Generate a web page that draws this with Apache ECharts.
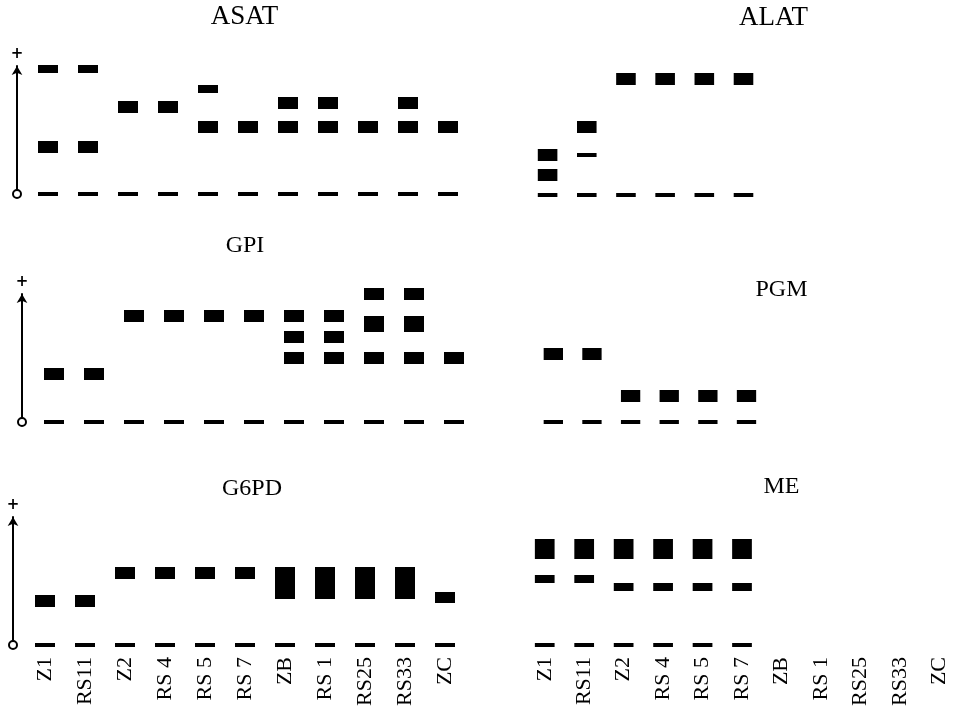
<!DOCTYPE html>
<html><head><meta charset="utf-8">
<script src="https://cdn.jsdelivr.net/npm/echarts@6/dist/echarts.min.js"></script>
<style>html,body{margin:0;padding:0;background:#fff}#c{width:959px;height:711px}</style>
</head><body><div id="c"></div>
<script>
// Lanes (populations)
const categories = ['Z1','RS11','Z2','RS 4','RS 5','RS 7','ZB','RS 1','RS25','RS33','ZC'];
const panelTitles = ['ASAT','ALAT','GPI','PGM','G6PD','ME'];
// Bands: [lane, lower mobility, upper mobility] (mobility above origin, arbitrary units)
const asatBands = [
  ['Z1',121,129],['Z1',41,53],['RS11',121,129],['RS11',41,53],
  ['Z2',81,93],['RS 4',81,93],
  ['RS 5',101,109],['RS 5',61,73],['RS 7',61,73],
  ['ZB',85,97],['ZB',61,73],['RS 1',85,97],['RS 1',61,73],
  ['RS25',61,73],['RS33',85,97],['RS33',61,73],['ZC',61,73]
];
const alatBands = [
  ['Z1',34,46],['Z1',14,26],['RS11',62,74],['RS11',38,42],
  ['Z2',110,122],['RS 4',110,122],['RS 5',110,122],['RS 7',110,122]
];
const gpiBands = [
  ['Z1',42,54],['RS11',42,54],
  ['Z2',100,112],['RS 4',100,112],['RS 5',100,112],['RS 7',100,112],
  ['ZB',100,112],['ZB',79,91],['ZB',58,70],
  ['RS 1',100,112],['RS 1',79,91],['RS 1',58,70],
  ['RS25',122,134],['RS25',90,106],['RS25',58,70],
  ['RS33',122,134],['RS33',90,106],['RS33',58,70],
  ['ZC',58,70]
];
const pgmBands = [
  ['Z1',62,74],['RS11',62,74],
  ['Z2',20,32],['RS 4',20,32],['RS 5',20,32],['RS 7',20,32]
];
const g6pdBands = [
  ['Z1',38,50],['RS11',38,50],
  ['Z2',66,78],['RS 4',66,78],['RS 5',66,78],['RS 7',66,78],
  ['ZB',46,78],['RS 1',46,78],['RS25',46,78],['RS33',46,78],
  ['ZC',42,53]
];
const meBands = [
  ['Z1',86,106],['RS11',86,106],['Z2',86,106],['RS 4',86,106],['RS 5',86,106],['RS 7',86,106],
  ['Z1',62,70],['RS11',62,70],
  ['Z2',54,62],['RS 4',54,62],['RS 5',54,62],['RS 7',54,62]
];
// Origin (well) marks: lanes that were scored in each panel
const originLanes = {
  ASAT: categories,
  ALAT: categories.slice(0,6),
  GPI: categories,
  PGM: categories.slice(0,6),
  G6PD: categories,
  ME: categories.slice(0,6)
};
const originBand = [-2,2];

const panelBands = {ASAT:asatBands, ALAT:alatBands, GPI:gpiBands, PGM:pgmBands, G6PD:g6pdBands, ME:meBands};

// layout
const gridsLayout = [
  {left:28, top:66},   // ASAT
  {left:528, top:67},  // ALAT
  {left:34, top:294},  // GPI
  {left:534, top:294}, // PGM
  {left:25, top:517},  // G6PD
  {left:525, top:517}  // ME
];
const titlePos = [
  {x:244.5, y:3, s:27}, {x:773.5, y:4, s:27}, {x:245, y:234, s:24},
  {x:781.5, y:278, s:24}, {x:252, y:477, s:24}, {x:781.5, y:475, s:24}
];
const axisOffsets = [11, 0, 12, 0, 12, 0];
const SERIF = 'Liberation Serif';

function renderBand(params, api) {
  const x = api.value(0), lo = api.value(1), hi = api.value(2);
  const pHi = api.coord([x, hi]);
  const pLo = api.coord([x, lo]);
  const w = api.size([1, 0])[0] * 0.5;
  return {
    type: 'rect',
    shape: {x: pHi[0] - w / 2, y: pHi[1], width: w, height: pLo[1] - pHi[1]},
    style: {fill: '#000'}
  };
}

const grid = [], xAxis = [], yAxis = [], series = [], title = [];
panelTitles.forEach((name, i) => {
  const isLeft = i % 2 === 0;
  const isBottom = i >= 4;
  grid.push({left: gridsLayout[i].left, top: gridsLayout[i].top, width: 440, height: 128});
  title.push({
    text: name, left: titlePos[i].x, top: titlePos[i].y, textAlign: 'center', padding: 0,
    textStyle: {fontFamily: SERIF, fontSize: titlePos[i].s, fontWeight: 'normal', color: '#000'}
  });
  xAxis.push({
    type: 'category', gridIndex: i, data: categories, boundaryGap: true,
    axisLine: {show: false}, axisTick: {show: false}, splitLine: {show: false},
    axisLabel: {
      show: isBottom, rotate: 90, margin: 12, interval: 0,
      fontFamily: SERIF, fontSize: 22, color: '#000'
    }
  });
  yAxis.push({
    type: 'value', gridIndex: i, min: 0, max: 128, show: isLeft,
    offset: axisOffsets[i],
    name: '+', nameLocation: 'end', nameGap: 4,
    nameTextStyle: {fontSize: 15, fontWeight: 'bold', color: '#000', fontFamily: 'DejaVu Sans'},
    axisLine: {show: true, symbol: ['emptyCircle', 'arrow'], symbolSize: [8, 9],
      lineStyle: {color: '#000', width: 2}},
    axisTick: {show: false}, axisLabel: {show: false}, splitLine: {show: false}
  });
  const origin = originLanes[name].map(c => [c, originBand[0], originBand[1]]);
  series.push({
    type: 'custom', xAxisIndex: i, yAxisIndex: i, renderItem: renderBand,
    encode: {x: 0, y: [1, 2]}, data: panelBands[name].concat(origin), silent: true, clip: false
  });
});

const chart = echarts.init(document.getElementById('c'), null, {renderer: 'canvas'});
chart.setOption({backgroundColor: '#fff', animation: false, title, grid, xAxis, yAxis, series});
</script>
</body></html>
